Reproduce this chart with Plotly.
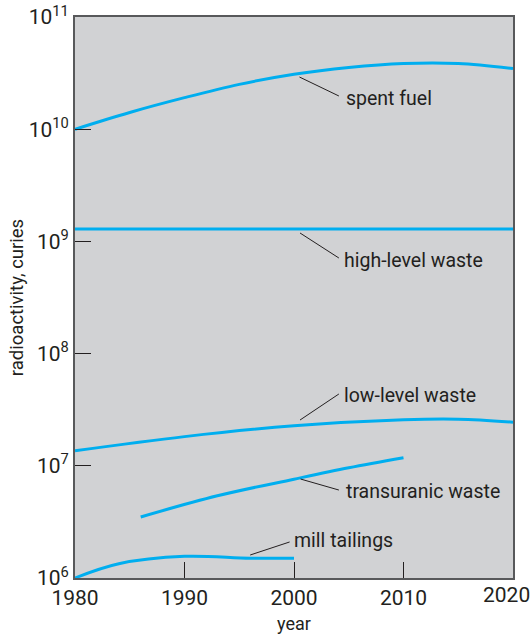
import plotly.graph_objects as go

# Data (curies)
spent_years = [1980, 1985, 1990, 1995, 2000, 2005, 2010, 2015, 2020]
spent_vals = [1.0e10, 1.41e10, 1.91e10, 2.51e10, 3.09e10, 3.55e10, 3.85e10, 3.85e10, 3.47e10]

hlw_years = [1980, 2020]
hlw_vals = [1.29e9, 1.29e9]

llw_years = [1980, 1990, 2000, 2010, 2015, 2020]
llw_vals = [1.36e7, 1.82e7, 2.27e7, 2.57e7, 2.60e7, 2.45e7]

tru_years = [1986, 1993, 2000, 2005, 2010]
tru_vals = [3.5e6, 5.4e6, 7.6e6, 9.6e6, 1.18e7]

mill_years = [1980, 1984, 1990, 1996, 2000]
mill_vals = [1.0e6, 1.34e6, 1.56e6, 1.50e6, 1.50e6]

x_ticks = [1980, 1990, 2000, 2010, 2020]
x_ticktext = ["1980", "1990", "2000", "2010", ""]
last_x_label = "2020"
y_tickvals = [1e6, 1e7, 1e8, 1e9, 1e10, 1e11]
y_ticktext = ["10<sup>6</sup>", "10<sup>7</sup>", "10<sup>8</sup>", "10<sup>9</sup>",
              "10<sup>10</sup>", "10<sup>11</sup>"]

# labels: (text, line start (year, value), line end (year, value), text anchor (year, log10))
labels = [
    ("spent fuel", (2000.5, 10**10.465), (2004.1, 10**10.296), (2004.6, 10.27)),
    ("high-level waste", (2000.55, 10**9.075), (2004.1, 10**8.852), (2004.4, 8.834)),
    ("low-level waste", (2000.55, 10**7.408), (2004.1, 10**7.64), (2004.4, 7.63)),
    ("transuranic waste", (2000.6, 10**6.882), (2004.1, 10**6.784), (2004.6, 6.775)),
    ("mill tailings", (1996.0, 10**6.205), (1999.6, 10**6.321), (1999.8, 6.33)),
]

LINE_COLOR = "#00aeef"
FONT = "Roboto, Arial, sans-serif"
TEXT_COLOR = "#231f20"

fig = go.Figure()
for xs, ys in [(spent_years, spent_vals), (hlw_years, hlw_vals), (llw_years, llw_vals),
               (tru_years, tru_vals), (mill_years, mill_vals)]:
    fig.add_trace(go.Scatter(x=xs, y=ys, mode="lines",
                             line=dict(color=LINE_COLOR, width=3, shape="spline", smoothing=1.0),
                             showlegend=False, hoverinfo="skip"))

for text, p0, p1, pt in labels:
    fig.add_shape(type="line", xref="x", yref="y", x0=p0[0], y0=p0[1], x1=p1[0], y1=p1[1],
                  line=dict(color="#231f20", width=1))
    fig.add_annotation(x=pt[0], y=pt[1], xref="x", yref="y", text=text, showarrow=False,
                       xanchor="left", yanchor="middle",
                       font=dict(family=FONT, size=19.5, color=TEXT_COLOR))

# last x tick label, kept inside the page like the reference
fig.add_annotation(x=x_ticks[-1], y=0, xref="x", yref="paper", text=last_x_label,
                   showarrow=False, xanchor="right", yanchor="middle", xshift=19, yshift=-17,
                   font=dict(family=FONT, size=21, color=TEXT_COLOR))

fig.update_xaxes(range=[1980, 2020], tickvals=x_ticks, ticktext=x_ticktext,
                 ticks="inside", ticklen=16,
                 tickcolor="#231f20", tickwidth=1, showline=True, linecolor="#58595b",
                 linewidth=2, mirror=True, showgrid=False, zeroline=False, automargin=False,
                 ticklabeloverflow="allow",
                 tickfont=dict(family=FONT, size=21, color=TEXT_COLOR),
                 title=dict(text="year", font=dict(family=FONT, size=18, color=TEXT_COLOR),
                            standoff=8))
fig.update_yaxes(type="log", range=[6, 11], tickvals=y_tickvals, ticktext=y_ticktext,
                 ticks="inside", ticklen=16, tickcolor="#231f20", tickwidth=1,
                 showline=True, linecolor="#58595b", linewidth=2, mirror=True,
                 showgrid=False, zeroline=False, automargin=False,
                 ticklabeloverflow="allow",
                 tickfont=dict(family=FONT, size=21, color=TEXT_COLOR),
                 title=dict(text="radioactivity, curies",
                            font=dict(family=FONT, size=18.5, color=TEXT_COLOR), standoff=0))

fig.update_layout(width=532, height=635, margin=dict(l=75, r=19, t=17, b=57),
                  plot_bgcolor="#d1d2d4", paper_bgcolor="white")

fig.write_html("out.html", config={"displayModeBar": False},
               post_script="document.body.style.margin='0px';")
